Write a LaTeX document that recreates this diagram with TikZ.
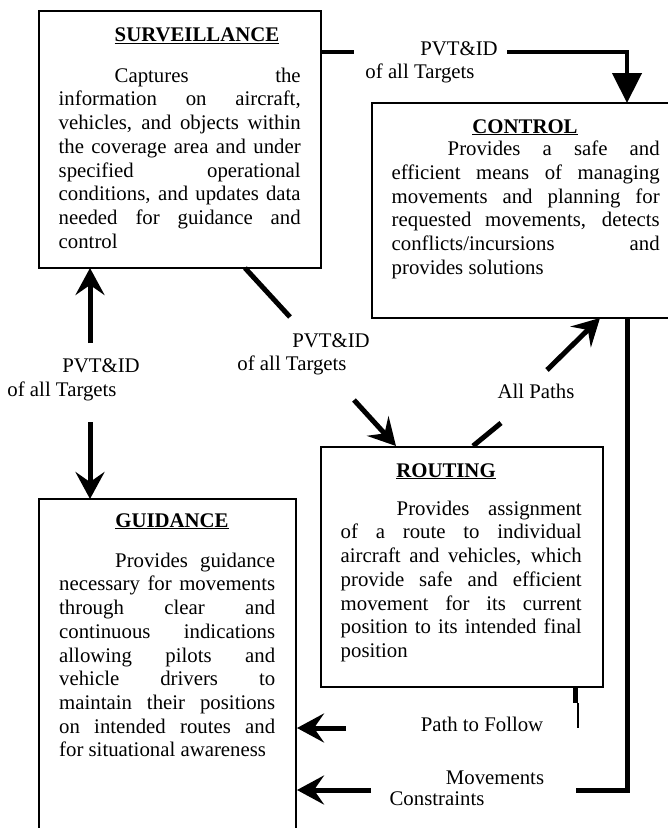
\documentclass[tikz,border=0pt]{standalone}
\usepackage{fontspec}
\setmainfont{Liberation Serif}
\usetikzlibrary{arrows.meta}
\hbadness=10000
\hfuzz=6pt
\begin{document}
\begin{tikzpicture}[x=1pt,y=-1pt,
  box/.style={draw, line width=1.4pt, inner sep=0pt},
  txt/.style={font=\fontsize{20.8pt}{23.7pt}\selectfont, inner sep=0pt},
  body/.style={txt, anchor=north west, align=justify},
  lbl/.style={txt, anchor=base},
  ttl/.style={inner sep=0pt, anchor=base, font=\fontsize{20.8pt}{23.7pt}\selectfont\bfseries},
  conn/.style={line width=5pt, line join=miter},
  stk/.style={-{Stealth[length=27pt,width=29pt,inset=10pt]}},
  tri/.style={-{Triangle[length=30pt,width=29pt]}},
]
\useasboundingbox (0,0) rectangle (668,828);
\clip (0,0) rectangle (668,828);

% boxes
\node[box, minimum width=282pt, minimum height=257pt] (surv) at (180,139.5) {};
\node[box, minimum width=318pt, minimum height=215pt] (ctrl) at (531,210.5) {};
\node[box, minimum width=282pt, minimum height=240pt] (rout) at (462,567) {};
\node[box, minimum width=257pt, minimum height=351pt] (guid) at (167.5,674.5) {};

% titles
\node[ttl] (survt) at (197,41) {\underline{SURVEILLANCE}};
\node[ttl] (ctrlt) at (525,133) {\underline{CONTROL}};
\node[ttl] (routt) at (446,477) {\underline{ROUTING}};
\node[ttl] (guidt) at (172,527) {\underline{GUIDANCE}};

% body texts
\node[body, text width=242pt] (survb) at (58.5,66) {\rule{0pt}{16pt}\hspace*{56pt}Captures the\linebreak information on aircraft,\linebreak vehicles, and objects within\linebreak the coverage area and under\linebreak specified operational\linebreak conditions, and updates data\linebreak needed for guidance and\linebreak control};
\node[body, text width=268pt] (ctrlb) at (391.5,139.5) {\rule{0pt}{16pt}\hspace*{56pt}Provides a safe and\linebreak efficient means of managing\linebreak movements and planning for\linebreak requested movements, detects\linebreak conflicts/incursions and\linebreak provides solutions};
\node[body, text width=241pt] (routb) at (340.5,499) {\rule{0pt}{16pt}\hspace*{56pt}Provides assignment\linebreak of a route to individual\linebreak aircraft and vehicles, which\linebreak provide safe and efficient\linebreak movement for its current\linebreak position to its intended final\linebreak position};
\node[body, text width=216pt] (guidb) at (59,551) {\rule{0pt}{16pt}\hspace*{56pt}Provides guidance\linebreak necessary for movements\linebreak through clear and\linebreak continuous indications\linebreak allowing pilots and\linebreak vehicle drivers to\linebreak maintain their positions\linebreak on intended routes and\linebreak for situational awareness};

% labels
\node[lbl] (l1a) at (459,55) {PVT\&ID};
\node[lbl] (l1b) at (420,78) {of all Targets};
\node[lbl] (l2a) at (331,347) {PVT\&ID};
\node[lbl] (l2b) at (292,370) {of all Targets};
\node[lbl] (l3a) at (101,372) {PVT\&ID};
\node[lbl] (l3b) at (62,396) {of all Targets};
\node[lbl] (l4) at (536,398) {All Paths};
\node[lbl] (l5) at (482,731) {Path to Follow};
\node[lbl] (l6a) at (495,784) {Movements};
\node[lbl] (l6b) at (437,805) {Constraints};

% connector points
\coordinate (a1) at (321,52);
\coordinate (a2) at (354,52);
\coordinate (a3) at (507,52);
\coordinate (a4) at (627,52);
\coordinate (a5) at (627,103);
\coordinate (b1) at (245,268);
\coordinate (b2) at (290,317);
\coordinate (b3) at (354,400);
\coordinate (b4) at (396,446);
\coordinate (c1) at (90,343);
\coordinate (c2) at (90,268);
\coordinate (c3) at (90,422);
\coordinate (c4) at (90,499);
\coordinate (d1) at (473,446);
\coordinate (d2) at (501,423);
\coordinate (d3) at (547,370);
\coordinate (d4) at (600,318);
\coordinate (e1) at (627,318);
\coordinate (e2) at (627,790);
\coordinate (e3) at (576,790);
\coordinate (e4) at (371,790);
\coordinate (e5) at (297,790);
\coordinate (f1) at (575.5,687);
\coordinate (f2) at (575.5,703);
\coordinate (f3) at (578,703);
\coordinate (f4) at (578,728);
\coordinate (f5) at (346,728);
\coordinate (f6) at (297,728);

% connectors
\draw[conn, line width=4.5pt] (a1) -- (a2);
\draw[conn, line width=4.5pt, tri] (a3) -- (a4) -- (a5);
\draw[conn] (b1) -- (b2);
\draw[conn, stk] (b3) -- (b4);
\draw[conn, stk] (c1) -- (c2);
\draw[conn, stk] (c3) -- (c4);
\draw[conn] (d1) -- (d2);
\draw[conn, stk] (d3) -- (d4);
\draw[conn] (e1) -- (e2) -- (e3);
\draw[conn, stk] (e4) -- (e5);
\draw[conn] (f1) -- (f2);
\draw[line width=1.5pt] (f3) -- (f4);
\draw[conn, stk] (f5) -- (f6);
\end{tikzpicture}
\end{document}
